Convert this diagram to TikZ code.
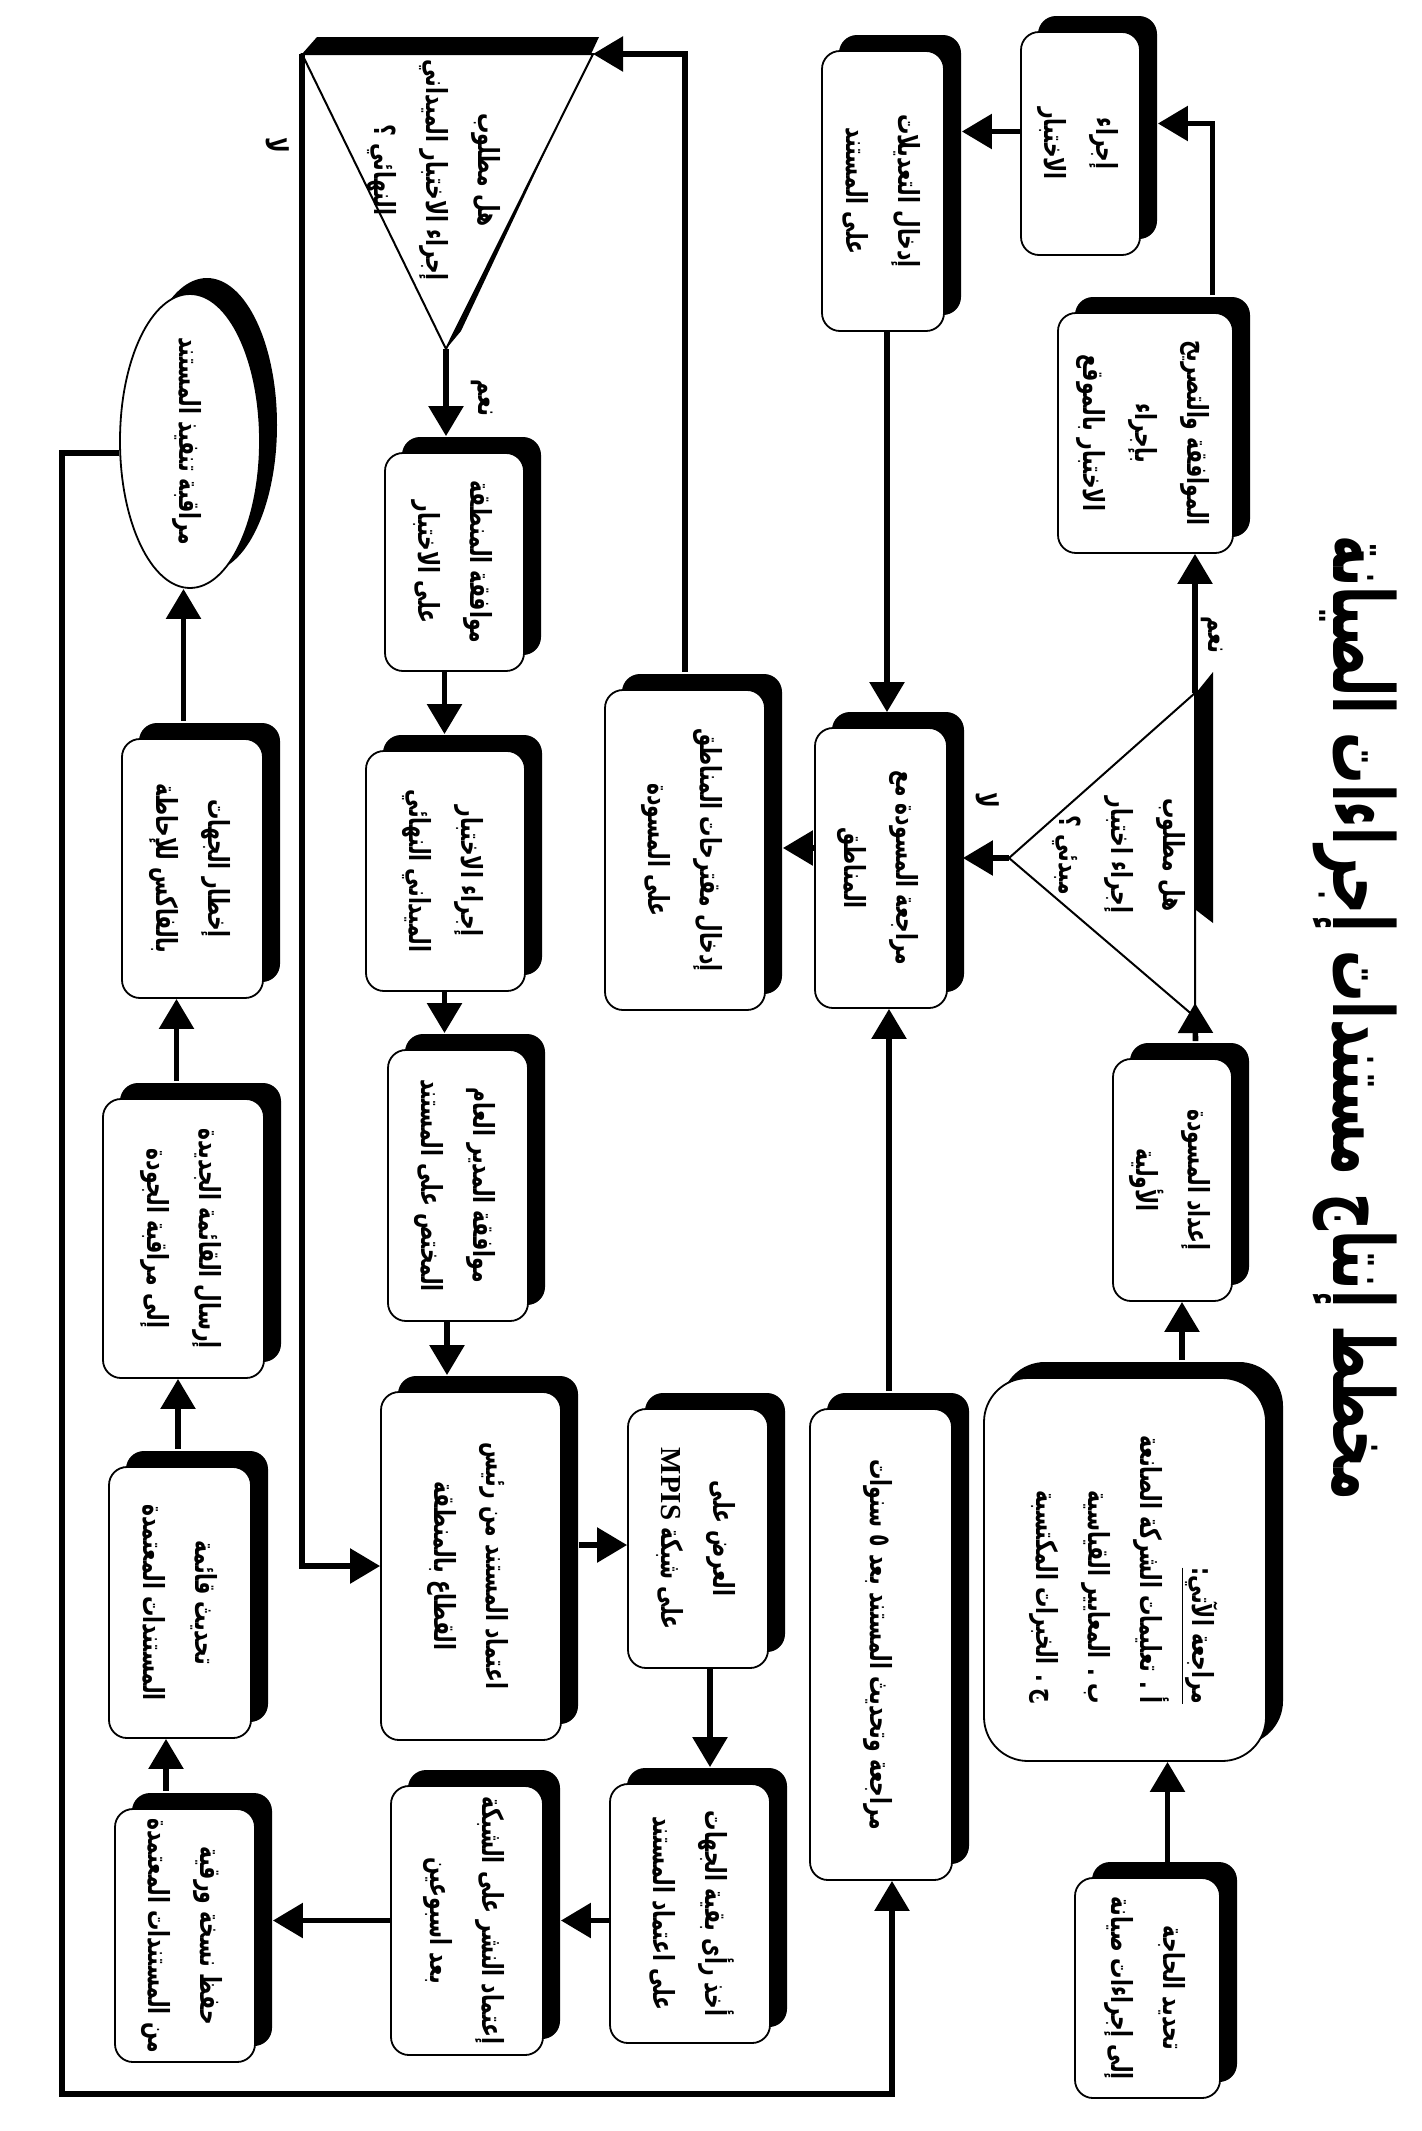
\documentclass[tikz,border=0pt]{standalone}
\usepackage{fontspec}
\usepackage{graphicx}
\usetikzlibrary{shapes.geometric,shadows,arrows.meta,calc}
\newfontfamily\arab[Script=Arabic,FakeStretch=0.7]{DejaVu Sans}
\newfontfamily\arabt[Script=Arabic]{DejaVu Sans}
\newfontfamily\lat{Liberation Serif}
\TeXXeTstate=1
\newcommand\rl[1]{\beginR#1\endR}
\newcommand\tx[2][c]{\rotatebox{-90}{\arab\bfseries\fontsize{14.5}{26}\selectfont\begin{tabular}{@{}#1@{}}#2\end{tabular}}}
\newcommand\lb[1]{\rotatebox{-90}{\arab\bfseries\fontsize{15}{16}\selectfont\rl{#1}}}
\newcommand\bx[7][]{\node[box,minimum width={(#5-#3)*0.5pt},minimum height={(#6-#4)*0.5pt},#1] (#2) at ({(#3+#5)/2},{(#4+#6)/2}) {#7};}
\begin{document}
\begin{tikzpicture}[x=0.5pt,y=-0.5pt,
 box/.style={draw=black,line width=0.9pt,fill=white,rounded corners=9pt,inner sep=0pt,
   drop shadow={shadow xshift=8.5pt,shadow yshift=8pt,opacity=1,fill=black}},
 bigbox/.style={rounded corners=22pt},
 arr/.style={line width=2.8pt,-{Triangle[width=17pt,length=15pt]}},
 lbl/.style={inner sep=0pt},
 tri/.style={draw=black,line width=1pt,fill=white}]
\fill[white] (0,0) rectangle (1421,2131);
\useasboundingbox (0,0) rectangle (1421,2131);
% title
\node[lbl] (title) at (1355,1018) {\rotatebox{-90}{\resizebox*{482pt}{42pt}{\arabt\bfseries\rl{مخطط إنتاج مستندات إجراءات الصيانة}}}};
% boxes
\bx{B1}{1075}{1878}{1220}{2098}{\tx{\rl{تحديد الحاجة}\\\rl{إلى إجراءات صيانة}}}
\bx[bigbox]{B2}{984}{1378}{1266}{1761}{\tx[r]{\underline{\rl{مراجعة الآتي:}}\\\rl{أ . تعليمات الشركة الصانعة}\\\rl{ب . المعايير القياسية}\\\rl{ج . الخبرات المكتسبة}}}
\bx{B3}{1113}{1059}{1232}{1301}{\tx{\rl{إعداد المسودة}\\\rl{الأولية}}}
\bx{B5}{1058}{313}{1233}{553}{\tx{\rl{الموافقة والتصريح}\\\rl{بإجراء}\\\rl{الاختبار بالموقع}}}
\bx{B6}{1021}{32}{1140}{255}{\tx{\rl{إجراء}\\\rl{الاختبار}}}
\bx{B7}{822}{51}{944}{331}{\tx{\rl{إدخال التعديلات}\\\rl{على المستند}}}
\bx{B8}{815}{728}{947}{1008}{\tx{\rl{مراجعة المسودة مع}\\\rl{المناطق}}}
\bx{B9}{605}{690}{765}{1010}{\tx{\rl{إدخال مقترحات المناطق}\\\rl{على المسودة}}}
\bx{B11}{385}{453}{524}{671}{\tx{\rl{موافقة المنطقة}\\\rl{على الاختبار}}}
\bx{B12}{366}{751}{525}{991}{\tx{\rl{إجراء الاختبار}\\\rl{الميداني النهائي}}}
\bx{B13}{388}{1050}{528}{1321}{\tx{\rl{موافقة المدير العام}\\\rl{المختص على المستند}}}
\bx{B14}{381}{1392}{561}{1740}{\tx{\rl{اعتماد المستند من رئيس}\\\rl{القطاع بالمنطقة}}}
\bx{B15}{628}{1409}{768}{1668}{\tx{\rl{العرض على}\\\rl{على شبكة \beginL{\lat\bfseries MPIS}\endL}}}
\bx{B16}{610}{1784}{770}{2043}{\tx{\rl{أخذ رأى بقية الجهات}\\\rl{على اعتماد المستند}}}
\bx{B17}{391}{1786}{543}{2055}{\tx{\rl{إعتماد النشر على الشبكة}\\\rl{بعد اسبوعين}}}
\bx{B18}{115}{1809}{255}{2062}{\tx{\rl{حفظ نسخة ورقية}\\\rl{من المستندات المعتمدة}}}
\bx{B19}{109}{1467}{251}{1738}{\tx{\rl{تحديث قائمة}\\\rl{المستندات المعتمدة}}}
\bx{B20}{103}{1099}{264}{1378}{\tx{\rl{إرسال القائمة الجديدة}\\\rl{إلى مراقبة الجودة}}}
\bx{B21}{122}{739}{263}{998}{\tx{\rl{إخطار الجهات}\\\rl{بالفاكس للإحاطة}}}
\node[box,ellipse,minimum width=70pt,minimum height=138pt] (E22) at (190,441) {\tx{\rl{مراقبة تنفيذ المستند}}};
\bx{B23}{810}{1409}{952}{1880}{\tx{\rl{مراجعة وتحديث المستند بعد ٥ سنوات}}}
% triangle 1
\coordinate (t1top) at (1195,693);
\coordinate (t1bot) at (1195,1017);
\coordinate (t1apex) at (1009,858);
\fill[black] (1196,693) -- (1213,672) -- (1213,923) -- (1196,910) -- cycle;
\draw[tri] (t1top) -- (t1apex) -- (t1bot) -- cycle;
\node[lbl] (t1txt) at (1122,855) {\tx{\rl{هل مطلوب}\\\rl{إجراء اختبار}\\\rl{مبدئي ؟}}};
% triangle 2
\coordinate (t2tl) at (302,54);
\coordinate (t2tr) at (593,54);
\coordinate (t2apex) at (446,349);
\fill[black] (317,37) -- (599,37) -- (461,331) -- (446,349) -- (302,54) -- cycle;
\draw[tri] (t2tl) -- (t2tr) -- (t2apex) -- cycle;
\node[lbl] (t2txt) at (437,170) {\tx{\rl{هل مطلوب}\\\rl{إجراء الاختبار الميداني}\\\rl{النهائي ؟}}};
% labels
\node[lbl] (yes1) at (1212,635) {\lb{نعم}};
\node[lbl] (no1) at (988,800) {\lb{لا}};
\node[lbl] (yes2) at (482,398) {\lb{نعم}};
\node[lbl] (no2) at (278,145) {\lb{لا}};
% connectors
\draw[arr] ($(B1.north)+(20,0)$) -- ($(B1.north|-B2.south)+(20,0)$);
\draw[arr] ($(B2.north)+(57,-17)$) -- ($(B2.north|-B3.south)+(57,0)$);
\draw[arr] ($(B3.north)+(23,-17)$) -- ($(t1bot)+(0,-14)$);
\draw[arr] (t1top) -- (t1top|-B5.south);
\draw[arr] (t1apex) -- ($(t1apex-|B8.east)+(15,0)$);
\draw[arr] ($(B5.north)+(67,-17)$) |- ($(B6.east)+(17,-20)$);
\draw[arr] ($(B6.west)+(0,-12)$) -- ($(B6.west-|B7.east)+(17,-12)$);
\draw[arr] ($(B7.south)+(4,0)$) -- ($(B7.south|-B8.north)+(4,-15)$);
\draw[arr] ($(B23.north)+(8,-17)$) -- ($(B23.north|-B8.south)+(8,0)$);
\draw[arr] ($(B8.west)+(0,-20)$) -- ($(B8.west-|B9.east)+(17,-20)$);
\draw[arr] ($(B9.north)+(0,-17)$) |- (t2tr);
\draw[arr] (t2apex) -- ($(t2apex|-B11.north)+(0,-16)$);
\draw[arr] (t2tl) |- (B14.west);
\draw[arr] ($(B11.south)+(-10,0)$) -- ($(B11.south|-B12.north)+(-10,-16)$);
\draw[arr] ($(B12.south)+(-1,0)$) -- ($(B12.south|-B13.north)+(-1,-16)$);
\draw[arr] ($(B13.south)+(-11,0)$) -- ($(B13.south|-B14.north)+(-11,-16)$);
\draw[arr] ($(B14.east)+(17,-21)$) -- ($(B14.east-|B15.west)+(0,-21)$);
\draw[arr] ($(B15.south)+(12,0)$) -- ($(B15.south|-B16.north)+(12,-16)$);
\draw[arr] ($(B16.west)+(0,7)$) -- ($(B16.west-|B17.east)+(17,7)$);
\draw[arr] (B17.west) -- ($(B17.west-|B18.east)+(17,0)$);
\draw[arr] ($(B18.north)+(-19,-17)$) -- ($(B18.north|-B19.south)+(-19,0)$);
\draw[arr] ($(B19.north)+(-2,-17)$) -- ($(B19.north|-B20.south)+(-2,0)$);
\draw[arr] ($(B20.north)+(-7,-17)$) -- ($(B20.north|-B21.south)+(-7,0)$);
\draw[arr] ($(B21.north)+(-9,-17)$) -- ($(B21.north|-E22.south)+(-9,0)$);
\coordinate (lp) at (62,2094);
\draw[arr] ($(E22.west)+(0,12)$) -| (lp) -| ($(B23.south)+(11,0)$);
\end{tikzpicture}
\end{document}
